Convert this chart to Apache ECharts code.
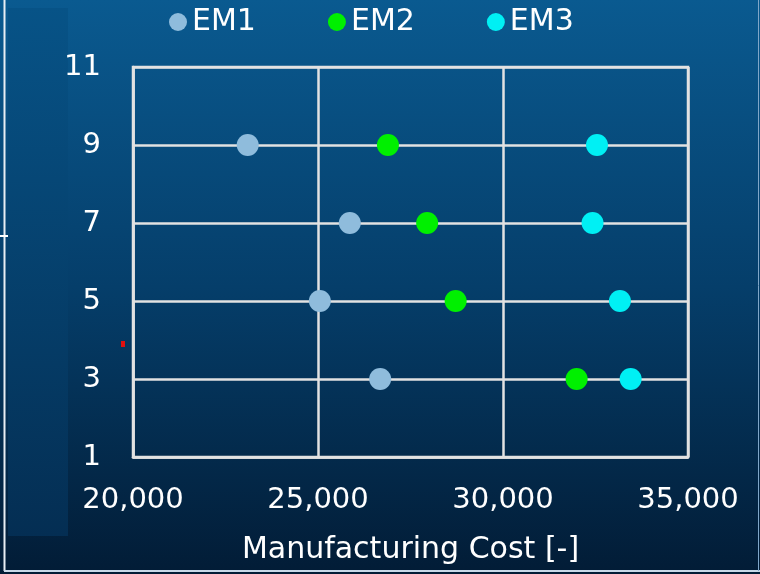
<!DOCTYPE html>
<html><head><meta charset="utf-8">
<script src="https://cdn.jsdelivr.net/npm/echarts@6/dist/echarts.min.js"></script>
<style>html,body{margin:0;padding:0;background:#06406e;}#c{width:760px;height:574px;}</style>
</head><body><div id="c"></div>
<script>
var seriesNames = ['EM1', 'EM2', 'EM3'];
var yLevels = [9, 7, 5, 3];
var em1Cost = [23100, 25860, 25050, 26680];
var em2Cost = [26890, 27950, 28720, 31990];
var em3Cost = [32540, 32420, 33160, 33450];
var xTicks = [20000, 25000, 30000, 35000];
var yTicks = [1, 3, 5, 7, 9, 11];
var colors = ['#8fbcdc', '#00f000', '#00f0f4'];

function pairs(xs) { return xs.map(function (x, i) { return [x, yLevels[i]]; }); }
var allCosts = [em1Cost, em2Cost, em3Cost];
var font = 'DejaVu Sans';
var chart = echarts.init(document.getElementById('c'));
chart.setOption({
  animation: false,
  textStyle: { fontFamily: font },
  graphic: [
    { type: 'rect', z: -10, shape: { x: 0, y: 0, width: 760, height: 574 },
      style: { fill: new echarts.graphic.LinearGradient(0, 0, 0, 1, [
        { offset: 0, color: '#0a5a90' }, { offset: 0.5, color: '#053e6a' }, { offset: 1, color: '#021c36' }]) } },
    { type: 'rect', z: -9, shape: { x: 8, y: 8, width: 60, height: 528 },
      style: { fill: new echarts.graphic.LinearGradient(0, 0, 0, 1, [
        { offset: 0, color: '#075387' }, { offset: 1, color: '#042e53' }]) } },
    { type: 'line', z: -8, shape: { x1: 4.5, y1: 0, x2: 4.5, y2: 571 }, style: { stroke: '#e8eef4', lineWidth: 2 } },
    { type: 'line', z: -8, shape: { x1: 4, y1: 571, x2: 760, y2: 571 }, style: { stroke: '#c8d8e8', lineWidth: 2 } },
    { type: 'line', z: -8, shape: { x1: 758.5, y1: 0, x2: 758.5, y2: 571 }, style: { stroke: '#7fa6c8', lineWidth: 1 } },
    { type: 'line', z: -8, shape: { x1: 0, y1: 236, x2: 8, y2: 236 }, style: { stroke: '#ffffff', lineWidth: 2 } },
    { type: 'rect', z: -7, shape: { x: 121, y: 341, width: 4, height: 6 }, style: { fill: '#e01010' } },
    { type: 'rect', z: 1, shape: { x: 133, y: 67, width: 555, height: 390 }, style: { fill: 'none', stroke: '#e2e2e2', lineWidth: 2.5 } }
  ],
  legend: {
    data: seriesNames, top: 2, left: 164, itemGap: 72, itemWidth: 18, itemHeight: 18,
    icon: 'circle',
    textStyle: { color: '#ffffff', fontSize: 30, fontFamily: font }
  },
  grid: { left: 133, right: 72, top: 67, bottom: 117 },
  xAxis: {
    type: 'value', min: xTicks[0], max: xTicks[xTicks.length - 1], interval: 5000,
    name: 'Manufacturing Cost [-]', nameLocation: 'middle', nameGap: 78,
    nameTextStyle: { color: '#ffffff', fontSize: 30, fontFamily: font },
    axisLine: { show: true, lineStyle: { color: '#e2e2e2', width: 2.5 } },
    axisTick: { show: false },
    splitLine: { show: true, lineStyle: { color: '#e2e2e2', width: 2.5 } },
    axisLabel: { color: '#ffffff', fontSize: 29, margin: 29,
      formatter: function (v) { return v.toLocaleString('en-US'); } }
  },
  yAxis: {
    type: 'value', min: yTicks[0], max: yTicks[yTicks.length - 1], interval: 2,
    axisLine: { show: true, lineStyle: { color: '#e2e2e2', width: 2.5 } },
    axisTick: { show: false },
    splitLine: { show: true, lineStyle: { color: '#e2e2e2', width: 2.5 } },
    axisLabel: { color: '#ffffff', fontSize: 29, margin: 32, padding: [4, 0, 0, 0] }
  },
  series: seriesNames.map(function (n, i) {
    return { name: n, type: 'scatter', symbolSize: 22, z: 5,
      itemStyle: { color: colors[i], opacity: 1 }, data: pairs(allCosts[i]) };
  })
});
</script></body></html>
